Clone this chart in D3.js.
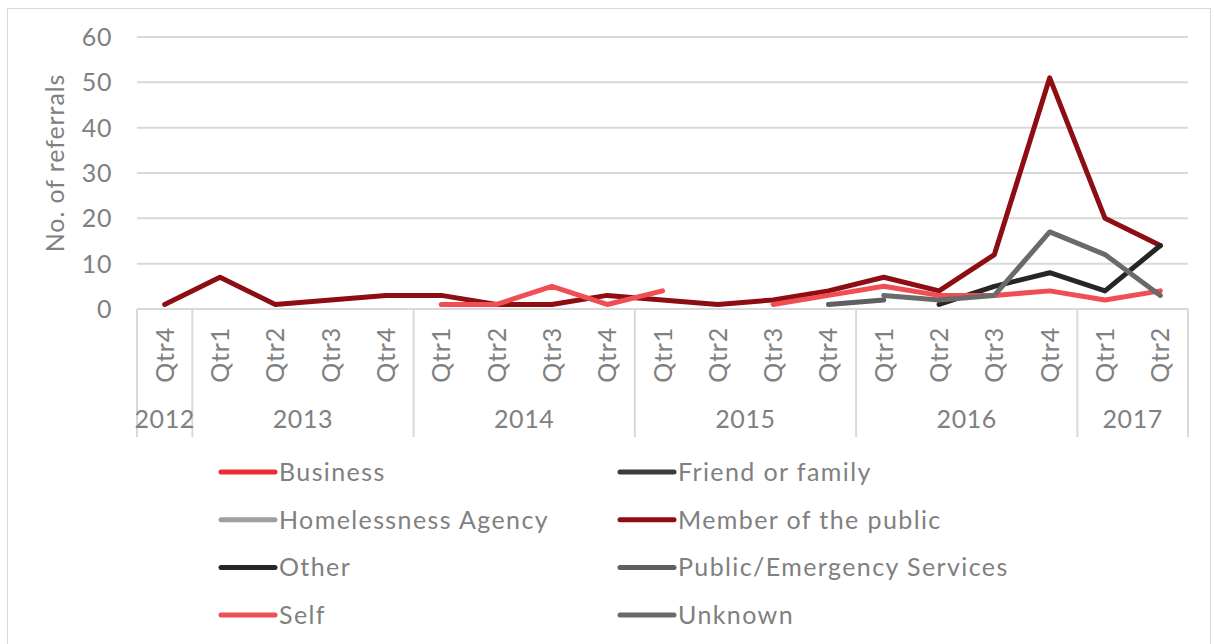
<!DOCTYPE html>
<html>
<head>
<meta charset="utf-8">
<script src="https://cdn.jsdelivr.net/npm/d3@7"></script>
<style>
  body { margin: 0; background: #fff; }
  text { font-family: Lato, "Open Sans", sans-serif; fill: #808080; }
</style>
</head>
<body>
<div id="chartdiv"></div>
<script>
// categories: one year + quarter per point
var yearOf = ["2012",
    "2013","2013","2013","2013",
    "2014","2014","2014","2014",
    "2015","2015","2015","2015",
    "2016","2016","2016","2016",
    "2017","2017"];
var quarterLabels = ["Qtr4",
    "Qtr1","Qtr2","Qtr3","Qtr4",
    "Qtr1","Qtr2","Qtr3","Qtr4",
    "Qtr1","Qtr2","Qtr3","Qtr4",
    "Qtr1","Qtr2","Qtr3","Qtr4",
    "Qtr1","Qtr2"];
var yTicks = [0, 10, 20, 30, 40, 50, 60];

// series values (null = no referrals recorded)
var business = [null,null,null,null,null,null,null,null,null,null,null,null,null,null,null,null,null,null,null];
var friendFamily = [null,null,null,null,null,null,null,null,null,null,null,null,null,null,null,null,null,null,null];
var homelessness = [null,null,null,null,null,null,null,null,null,null,null,null,null,null,null,null,null,null,null];
var memberPublic = [1, 7,1,2,3, 3,1,1,3, 2,1,2,4, 7,4,12,51, 20,14];
var other = [null, null,null,null,null, null,null,null,null, null,null,null,null, null,1,5,8, 4,14];
var publicEmergency = [null, null,null,null,null, null,null,null,null, null,null,null,1, 2,null,null,null, null,null];
var self = [null, null,null,null,null, 1,1,5,1, 4,null,1,3, 5,3,3,4, 2,4];
var unknown = [null, null,null,null,null, null,null,null,null, null,null,null,null, 3,2,3,17, 12,3];

var seriesNames = ["Business", "Friend or family", "Homelessness Agency", "Member of the public",
                   "Other", "Public/Emergency Services", "Self", "Unknown"];
var seriesColors = ["#ee2a35", "#3b3b3b", "#a0a0a4", "#8e0d12", "#262626", "#5f5f63", "#f04e55", "#6a6a6a"];
var seriesValues = [business, friendFamily, homelessness, memberPublic, other, publicEmergency, self, unknown];

var svgContainer = d3.select("div#chartdiv").append("svg")
                          .attr("width", 1214)
                          .attr("height", 644);

// outer chart border
svgContainer.append("rect")
    .attr("x", 7.5).attr("y", 8.5)
    .attr("width", 1203).attr("height", 650)
    .attr("fill", "none").attr("stroke", "#d9d9d9");

var x = d3.scaleBand().domain(d3.range(quarterLabels.length)).range([137, 1188]).padding(0);
var y = d3.scaleLinear().domain([0, 60]).range([309, 37]);
var bw = x.bandwidth();

// gridlines
svgContainer.selectAll("line.grid")
    .data(yTicks)
    .enter()
    .append("line")
    .attr("x1", 137).attr("x2", 1188)
    .attr("y1", function (d) { return y(d); })
    .attr("y2", function (d) { return y(d); })
    .attr("stroke", "#d9d9d9")
    .attr("stroke-width", 2);

// y tick labels
svgContainer.selectAll("text.ytick")
    .data(yTicks)
    .enter()
    .append("text")
    .attr("x", 112)
    .attr("y", function (d) { return y(d); })
    .attr("dy", "0.36em")
    .attr("text-anchor", "end")
    .style("font-size", "25px")
    .style("letter-spacing", "0.6px")
    .text(function (d) { return d; });

svgContainer.append("text")
    .attr("transform", "translate(64,163) rotate(-90)")
    .attr("text-anchor", "middle")
    .style("font-size", "25px")
    .style("letter-spacing", "0.9px")
    .text("No. of referrals");

// quarter labels
svgContainer.selectAll("text.qtr")
    .data(quarterLabels)
    .enter()
    .append("text")
    .attr("transform", function (d, i) { return "translate(" + (x(i) + bw / 2) + ",327) rotate(-90)"; })
    .attr("dy", "0.36em")
    .attr("text-anchor", "end")
    .style("font-size", "25px")
    .style("letter-spacing", "0.8px")
    .text(function (d) { return d; });

// year groups
var yearGroups = [];
yearOf.forEach(function (yr, i) {
    var last = yearGroups[yearGroups.length - 1];
    if (last && last.year === yr) { last.end = i; }
    else { yearGroups.push({year: yr, start: i, end: i}); }
});

var sepX = [137].concat(yearGroups.map(function (g) { return x(g.end) + bw; }));
svgContainer.selectAll("line.sep")
    .data(sepX)
    .enter()
    .append("line")
    .attr("x1", function (d) { return d; })
    .attr("x2", function (d) { return d; })
    .attr("y1", 309).attr("y2", 437)
    .attr("stroke", "#d9d9d9")
    .attr("stroke-width", 2);

svgContainer.selectAll("text.year")
    .data(yearGroups)
    .enter()
    .append("text")
    .attr("x", function (d) { return (x(d.start) + x(d.end) + bw) / 2; })
    .attr("y", 428)
    .attr("text-anchor", "middle")
    .style("font-size", "25px")
    .style("letter-spacing", "0.6px")
    .text(function (d) { return d.year; });

// x axis line
svgContainer.append("line")
    .attr("x1", 137).attr("x2", 1188)
    .attr("y1", 309).attr("y2", 309)
    .attr("stroke", "#d9d9d9")
    .attr("stroke-width", 2);

// series lines
var lineGen = d3.line()
    .defined(function (d) { return d != null; })
    .x(function (d, i) { return x(i) + bw / 2; })
    .y(function (d) { return y(d); });

svgContainer.selectAll("path.series")
    .data(seriesValues)
    .enter()
    .append("path")
    .attr("d", function (d) { return lineGen(d); })
    .attr("fill", "none")
    .attr("stroke", function (d, i) { return seriesColors[i]; })
    .attr("stroke-width", 5)
    .attr("stroke-linejoin", "round")
    .attr("stroke-linecap", "round");

// legend, two columns
var legend = svgContainer.selectAll("g.legend")
    .data(seriesNames)
    .enter()
    .append("g")
    .attr("transform", function (d, i) {
        return "translate(" + (i % 2 === 0 ? 221 : 620) + "," + (472 + Math.floor(i / 2) * 47.7) + ")";
    });

legend.append("line")
    .attr("x1", 0).attr("x2", 54)
    .attr("y1", 0).attr("y2", 0)
    .attr("stroke", function (d, i) { return seriesColors[i]; })
    .attr("stroke-width", 5)
    .attr("stroke-linecap", "round");

legend.append("text")
    .attr("x", 58)
    .attr("y", 0)
    .attr("dy", "0.36em")
    .style("font-size", "25px")
    .style("letter-spacing", "1.4px")
    .text(function (d) { return d; });
</script>
</body>
</html>
